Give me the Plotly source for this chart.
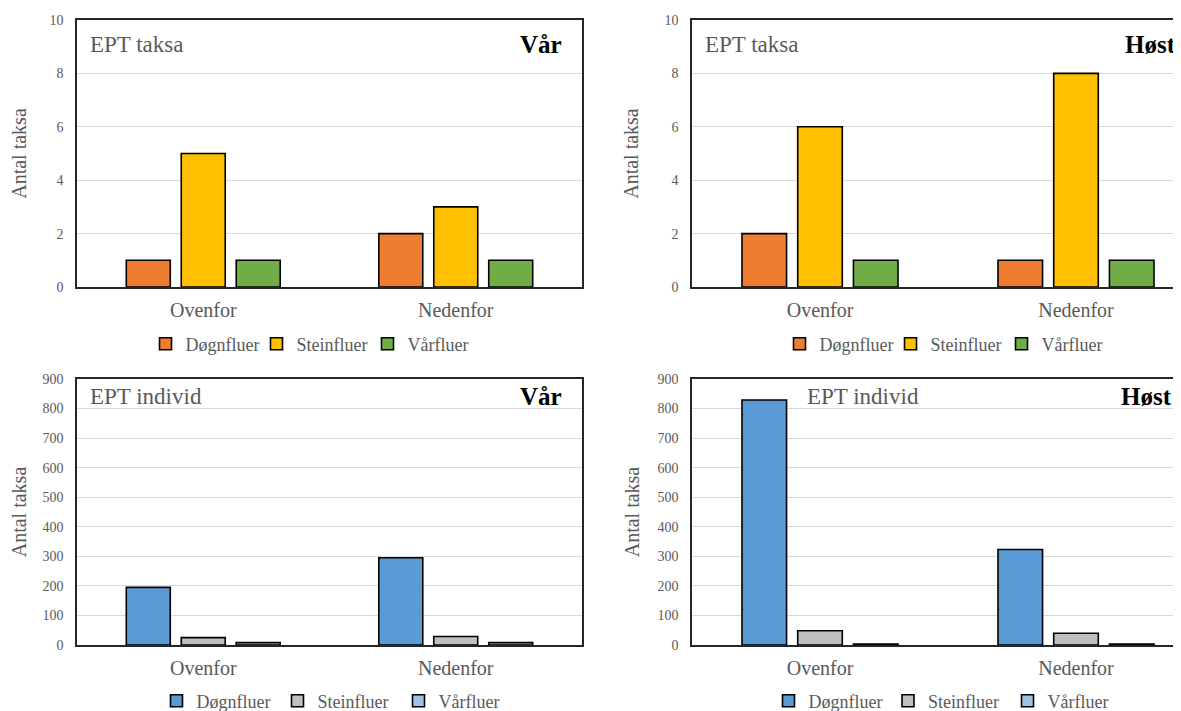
import plotly.graph_objects as go

# ---------------- data ----------------
sites = ["Ovenfor", "Nedenfor"]
groups = ["Døgnfluer", "Steinfluer", "Vårfluer"]

taksa_var_dogn = [1, 2]
taksa_var_stein = [5, 3]
taksa_var_vaar = [1, 1]

taksa_host_dogn = [2, 1]
taksa_host_stein = [6, 8]
taksa_host_vaar = [1, 1]

ind_var_dogn = [195, 295]
ind_var_stein = [25, 29]
ind_var_vaar = [8, 8]

ind_host_dogn = [829, 323]
ind_host_stein = [48, 40]
ind_host_vaar = [3, 3]

taksa_colors = ["#ED7D31", "#FFC000", "#70AD47"]
ind_colors = ["#5B9BD5", "#BFBFBF", "#9DC3E6"]

W, H = 1181, 711
OX, OY = 8, 8          # page body margin offset
FW, FH = W - OX, H - OY
FONT = "Liberation Serif, Times New Roman, Tinos, DejaVu Serif, serif"
TXT = "#595959"


def px(x):
    return (x - OX) / FW


def py(y):
    return 1 - (y - OY) / FH


fig = go.Figure()

panels = [
    ("x", "y", "legend", [taksa_var_dogn, taksa_var_stein, taksa_var_vaar], taksa_colors),
    ("x2", "y2", "legend2", [taksa_host_dogn, taksa_host_stein, taksa_host_vaar], taksa_colors),
    ("x3", "y3", "legend3", [ind_var_dogn, ind_var_stein, ind_var_vaar], ind_colors),
    ("x4", "y4", "legend4", [ind_host_dogn, ind_host_stein, ind_host_vaar], ind_colors),
]

for xa, ya, lg, series, cols in panels:
    for name, vals, c in zip(groups, series, cols):
        fig.add_trace(go.Bar(
            x=sites, y=vals, name=name, xaxis=xa, yaxis=ya, legend=lg,
            marker=dict(color=c, line=dict(color="#000000", width=1.6)),
            offsetgroup=name, hoverinfo="x+y+name",
        ))

left_dom = [px(77), px(582)]
right_dom = [px(692), 1.0]
top_dom = [py(287), py(20)]
bot_dom = [py(645), py(379)]

axis_line = dict(showline=True, linecolor="#262626", linewidth=1.5)

xcommon = dict(type="category", showgrid=False, zeroline=False, ticks="",
               tickfont=dict(family=FONT, size=20, color=TXT),
               ticklabelstandoff=4, automargin=False, **axis_line)


def ycommon(standoff):
    return dict(showgrid=True, gridcolor="#D9D9D9", gridwidth=1, zeroline=False,
                ticks="", tickfont=dict(family=FONT, size=14, color=TXT),
                ticklabelstandoff=9, automargin=False, **axis_line,
                title=dict(text="Antal taksa", font=dict(family=FONT, size=20, color=TXT),
                           standoff=standoff))


right_range = [-0.5, -0.5 + (W - 692) / 256.0]
left_range = [-0.5, 1.5]

fig.update_layout(
    xaxis=dict(domain=left_dom, anchor="y", range=left_range, mirror=True, **xcommon),
    xaxis2=dict(domain=right_dom, anchor="y2", range=right_range, mirror=True, **xcommon),
    xaxis3=dict(domain=left_dom, anchor="y3", range=left_range, mirror=True, **xcommon),
    xaxis4=dict(domain=right_dom, anchor="y4", range=right_range, mirror=True, **xcommon),
    yaxis=dict(domain=top_dom, anchor="x", range=[0, 10], dtick=2, mirror=True, **ycommon(20)),
    yaxis2=dict(domain=top_dom, anchor="x2", range=[0, 10], dtick=2, mirror=False, **ycommon(20)),
    yaxis3=dict(domain=bot_dom, anchor="x3", range=[0, 900], dtick=100, mirror=True, **ycommon(12)),
    yaxis4=dict(domain=bot_dom, anchor="x4", range=[0, 900], dtick=100, mirror=False, **ycommon(12)),
)

leg = dict(orientation="h", xanchor="center", yanchor="middle",
           font=dict(family=FONT, size=18, color=TXT),
           bgcolor="rgba(0,0,0,0)", traceorder="normal", entrywidthmode="pixels")
fig.update_layout(
    legend=dict(x=px(312), y=py(344), entrywidth=66, **leg),
    legend2=dict(x=px(946), y=py(344), entrywidth=66, **leg),
    legend3=dict(x=px(338), y=py(701), entrywidth=76, **leg),
    legend4=dict(x=px(948), y=py(701), entrywidth=74.5, **leg),
)

ann_font = dict(family=FONT, size=23, color=TXT)
bold_font = dict(family=FONT, size=25, color="#000000")
annotations = [
    dict(text="EPT taksa", x=px(88), y=py(45), xanchor="left", yanchor="middle", font=ann_font),
    dict(text="<b>Vår</b>", x=px(564), y=py(45), xanchor="right", yanchor="middle", font=bold_font),
    dict(text="EPT taksa", x=px(703), y=py(45), xanchor="left", yanchor="middle", font=ann_font),
    dict(text="<b>Høst</b>", x=px(1178), y=py(45), xanchor="right", yanchor="middle", font=bold_font),
    dict(text="EPT individ", x=px(88), y=py(396), xanchor="left", yanchor="middle", font=ann_font),
    dict(text="<b>Vår</b>", x=px(564), y=py(396), xanchor="right", yanchor="middle", font=bold_font),
    dict(text="EPT individ", x=px(805), y=py(396), xanchor="left", yanchor="middle", font=ann_font),
    dict(text="<b>Høst</b>", x=px(1174), y=py(396), xanchor="right", yanchor="middle", font=bold_font),
]
for a in annotations:
    a.update(xref="paper", yref="paper", showarrow=False)

fig.update_layout(
    annotations=annotations,
    barmode="group", bargap=0.347, bargroupgap=0.2,
    width=FW, height=FH,
    margin=dict(l=0, r=0, t=0, b=0, autoexpand=False),
    paper_bgcolor="white", plot_bgcolor="white",
    font=dict(family=FONT),
)

fig.write_html("out.html")
